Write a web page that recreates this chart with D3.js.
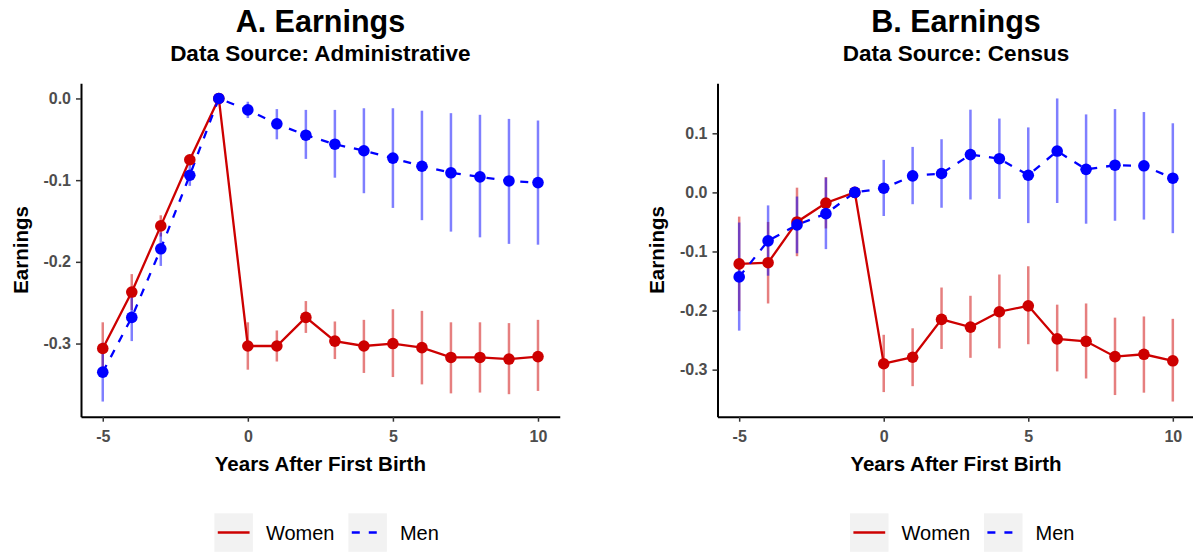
<!DOCTYPE html>
<meta charset="utf-8">
<script src="https://d3js.org/d3.v7.min.js"></script>
<style>
  body { margin: 0; background: #fff; }
  text { font-family: "Liberation Sans", Arial, sans-serif; }
</style>

<div id="chart"></div>

<script>

// event-study estimates, years relative to first birth
var years = [-5, -4, -3, -2, -1, 0, 1, 2, 3, 4, 5, 6, 7, 8, 9, 10];

var adminWomen   = [-0.306, -0.237, -0.156, -0.075, 0, -0.303, -0.303, -0.268, -0.297, -0.303, -0.300, -0.305, -0.317, -0.317, -0.319, -0.316];
var adminWomenLo = [-0.338, -0.259, -0.169, -0.081, 0, -0.332, -0.322, -0.287, -0.319, -0.336, -0.341, -0.350, -0.361, -0.360, -0.362, -0.358];
var adminWomenHi = [-0.274, -0.215, -0.143, -0.069, 0, -0.274, -0.284, -0.248, -0.273, -0.271, -0.258, -0.260, -0.274, -0.274, -0.275, -0.271];

var adminMen   = [-0.335, -0.268, -0.184, -0.094, 0, -0.014, -0.031, -0.045, -0.056, -0.064, -0.073, -0.083, -0.091, -0.096, -0.101, -0.103];
var adminMenLo = [-0.371, -0.297, -0.205, -0.107, 0, -0.024, -0.050, -0.074, -0.097, -0.116, -0.134, -0.149, -0.163, -0.170, -0.178, -0.179];
var adminMenHi = [-0.299, -0.238, -0.164, -0.081, 0, -0.004, -0.013, -0.014, -0.014, -0.012, -0.012, -0.015, -0.018, -0.020, -0.025, -0.027];

var censusWomen   = [-0.121, -0.119, -0.050, -0.018, 0, -0.290, -0.279, -0.215, -0.228, -0.202, -0.192, -0.248, -0.252, -0.278, -0.274, -0.285];
var censusWomenLo = [-0.201, -0.188, -0.108, -0.061, 0, -0.338, -0.328, -0.265, -0.280, -0.264, -0.257, -0.303, -0.315, -0.343, -0.339, -0.354];
var censusWomenHi = [-0.041, -0.050,  0.008,  0.026, 0, -0.241, -0.230, -0.161, -0.175, -0.139, -0.125, -0.190, -0.188, -0.212, -0.210, -0.214];

var censusMen   = [-0.143, -0.082, -0.055, -0.036, 0,  0.007, 0.028, 0.032, 0.064, 0.057, 0.029, 0.070, 0.039, 0.046, 0.045, 0.024];
var censusMenLo = [-0.234, -0.141, -0.103, -0.096, 0, -0.040, -0.020, -0.026, -0.012, -0.011, -0.052, -0.018, -0.053, -0.048, -0.046, -0.069];
var censusMenHi = [-0.051, -0.022, -0.007,  0.025, 0,  0.055,  0.077,  0.090,  0.140,  0.125,  0.110,  0.159,  0.132,  0.141,  0.136,  0.117];

var xTicks = [-5, 0, 5, 10];
var adminYTicks = [0, -0.1, -0.2, -0.3];
var censusYTicks = [0.1, 0, -0.1, -0.2, -0.3];

var width = 1193,
  height = 552,
  plotTop = 83.3,
  plotBottom = 416.7,
  womenColor = "#CD0000",
  menColor = "#0000FF",
  pointRadius = 5.8,
  lineWidth = 2.3,
  barWidth = 2.5;

var svg = d3.select("#chart")
  .append("svg")
    .attr("width", width)
    .attr("height", height);

function rows(est, lo, hi) {
  return years.map(function(yr, i) { return {year: yr, est: est[i], lo: lo[i], hi: hi[i]}; });
}

function drawPanel(p) {
  var g = svg.append("g");
  var cx = (p.left + p.right) / 2;

  var series = [
    {name: "Women", color: womenColor, dash: null, data: rows(p.women[0], p.women[1], p.women[2])},
    {name: "Men", color: menColor, dash: "8,9", data: rows(p.men[0], p.men[1], p.men[2])}
  ];

  var x = d3.scaleLinear().domain([-5.75, 10.75]).range([p.left, p.right]);

  // ggplot style 5% expansion around the error bars
  var ymin = d3.min(p.women[1].concat(p.men[1])),
    ymax = d3.max(p.women[2].concat(p.men[2])),
    pad = (ymax - ymin) * 0.05;
  var y = d3.scaleLinear().domain([ymin - pad, ymax + pad]).range([plotBottom, plotTop]);

  // titles
  g.append("text")
    .attr("x", cx).attr("y", 31.5)
    .attr("text-anchor", "middle")
    .style("font-size", "30.5px").style("font-weight", "bold")
    .text(p.title);
  g.append("text")
    .attr("x", cx).attr("y", 61)
    .attr("text-anchor", "middle")
    .style("font-size", "22.5px").style("font-weight", "bold")
    .text(p.subtitle);

  // error bars
  series.forEach(function(s) {
    g.selectAll(null)
      .data(s.data.filter(function(d) { return d.hi > d.lo; }))
      .enter()
      .append("line")
        .attr("x1", function(d) { return x(d.year); })
        .attr("x2", function(d) { return x(d.year); })
        .attr("y1", function(d) { return y(d.lo); })
        .attr("y2", function(d) { return y(d.hi); })
        .attr("stroke", s.color)
        .attr("stroke-opacity", 0.5)
        .attr("stroke-width", barWidth);
  });

  var line = d3.line()
    .x(function(d) { return x(d.year); })
    .y(function(d) { return y(d.est); });

  series.forEach(function(s) {
    g.append("path")
      .datum(s.data)
      .attr("d", line)
      .attr("fill", "none")
      .attr("stroke", s.color)
      .attr("stroke-width", lineWidth)
      .attr("stroke-dasharray", s.dash);
  });

  series.forEach(function(s) {
    g.selectAll(null)
      .data(s.data)
      .enter()
      .append("circle")
        .attr("cx", function(d) { return x(d.year); })
        .attr("cy", function(d) { return y(d.est); })
        .attr("r", pointRadius)
        .attr("fill", s.color);
  });

  // axes
  var xAxis = g.append("g")
    .attr("transform", "translate(0," + plotBottom + ")")
    .call(d3.axisBottom(x).tickValues(xTicks).tickSize(5).tickSizeOuter(0)
      .tickFormat(function(d) { return String(d); }));
  xAxis.selectAll("text").attr("y", 25.5).attr("dy", null);

  var yAxis = g.append("g")
    .attr("transform", "translate(" + p.left + ",0)")
    .call(d3.axisLeft(y).tickValues(p.yTicks).tickSize(5).tickPadding(5).tickSizeOuter(0)
      .tickFormat(function(d) { return d.toFixed(1); }));

  [xAxis, yAxis].forEach(function(a) {
    a.select(".domain").attr("stroke", "#000").attr("stroke-width", 2);
    a.selectAll(".tick line").attr("stroke", "#333").attr("stroke-width", 1.5);
    a.selectAll("text")
      .attr("fill", "#4D4D4D")
      .style("font-size", "16px")
      .style("font-weight", "bold")
      .style("font-family", "'Liberation Sans', Arial, sans-serif");
  });

  // axis titles
  g.append("text")
    .attr("x", cx).attr("y", 471)
    .attr("text-anchor", "middle")
    .style("font-size", "20.5px").style("font-weight", "bold")
    .text("Years After First Birth");
  g.append("text")
    .attr("transform", "translate(" + p.yLabelX + "," + (plotTop + plotBottom) / 2 + ") rotate(-90)")
    .attr("text-anchor", "middle")
    .style("font-size", "20.5px").style("font-weight", "bold")
    .text("Earnings");

  // legend
  var keyX = [cx - 106, cx + 28];
  series.forEach(function(s, i) {
    var k = g.append("g").attr("transform", "translate(" + keyX[i] + ",513.3)");
    k.append("rect")
      .attr("width", 38.5).attr("height", 38.5)
      .attr("fill", "#F2F2F2");
    k.append("line")
      .attr("x1", 3.4).attr("x2", 35.2)
      .attr("y1", 19.2).attr("y2", 19.2)
      .attr("stroke", s.color)
      .attr("stroke-width", lineWidth)
      .attr("stroke-dasharray", s.dash);
    k.append("text")
      .attr("x", 51.5).attr("y", 27)
      .style("font-size", "20px")
      .text(s.name);
  });
}

drawPanel({
  left: 81, right: 559.75, yLabelX: 28,
  title: "A. Earnings", subtitle: "Data Source: Administrative",
  women: [adminWomen, adminWomenLo, adminWomenHi],
  men: [adminMen, adminMenLo, adminMenHi],
  yTicks: adminYTicks
});

drawPanel({
  left: 717.5, right: 1194.5, yLabelX: 664,
  title: "B. Earnings", subtitle: "Data Source: Census",
  women: [censusWomen, censusWomenLo, censusWomenHi],
  men: [censusMen, censusMenLo, censusMenHi],
  yTicks: censusYTicks
});

</script>
